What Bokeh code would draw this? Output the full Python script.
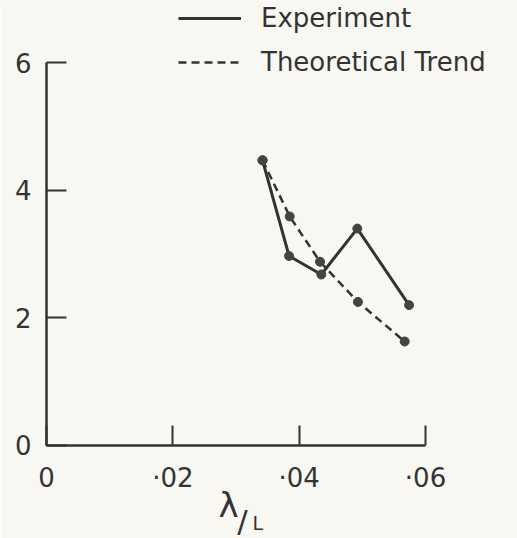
from bokeh.plotting import figure
from bokeh.models import (FixedTicker, Legend, LegendItem, Label, ColumnDataSource,
                          Range1d, LinearAxis)
from bokeh.embed import file_html
from bokeh.resources import INLINE

# ---- data ----
x_experiment = [0.0342, 0.0384, 0.0435, 0.0492, 0.0574]
y_experiment = [4.47, 2.97, 2.68, 3.40, 2.20]
x_theory = [0.0342, 0.0385, 0.0433, 0.0493, 0.0567]
y_theory = [4.47, 3.59, 2.88, 2.25, 1.63]

x_ticks = [0, 0.02, 0.04, 0.06]
x_tick_labels = ["0", "·02", "·04", "·06"]
y_ticks = [0, 2, 4, 6]
y_tick_labels = ["0", "2", "4", "6"]
legend_labels = ["Experiment", "Theoretical Trend"]
x_label_main = "λ"
x_label_slash = "/"
x_label_sub = "L"

BG = "#f8f7f2"
INK = "#333333"
FONT = "DejaVu Sans"

p = figure(width=517, height=538, output_backend="svg", toolbar_location=None,
           x_range=Range1d(-0.007282, 0.07456), y_range=Range1d(-1.458, 6.975),
           x_axis_location=None, y_axis_location=None,
           min_border_left=0, min_border_right=0, min_border_top=0,
           min_border_bottom=0)
p.background_fill_color = BG
p.border_fill_color = BG
p.outline_line_color = None
p.xgrid.visible = False
p.ygrid.visible = False

xaxis = LinearAxis(ticker=FixedTicker(ticks=x_ticks),
                   major_label_overrides={t: l for t, l in zip(x_ticks, x_tick_labels)},
                   bounds=(0, 0.06), fixed_location=0)
yaxis = LinearAxis(ticker=FixedTicker(ticks=y_ticks),
                   major_label_overrides={t: l for t, l in zip(y_ticks, y_tick_labels)},
                   bounds=(0, 6), fixed_location=0)
for ax, standoff in ((xaxis, 18), (yaxis, 15)):
    ax.axis_line_color = INK
    ax.axis_line_width = 2.5
    ax.major_tick_line_color = INK
    ax.major_tick_line_width = 2
    ax.major_tick_in = 20
    ax.major_tick_out = 0
    ax.minor_tick_line_color = None
    ax.major_label_text_font = FONT
    ax.major_label_text_font_size = "26px"
    ax.major_label_text_color = INK
    ax.major_label_standoff = standoff
p.add_layout(xaxis, "below")
p.add_layout(yaxis, "left")

src_e = ColumnDataSource(dict(x=x_experiment, y=y_experiment))
src_t = ColumnDataSource(dict(x=x_theory, y=y_theory))

r_t = p.line("x", "y", source=src_t, line_color=INK, line_width=2.5, line_dash="8 5")
r_e = p.line("x", "y", source=src_e, line_color=INK, line_width=3)
p.scatter("x", "y", source=src_t, size=9, fill_color="#444444", line_color="#444444")
p.scatter("x", "y", source=src_e, size=9, fill_color="#444444", line_color="#444444")

legend = Legend(items=[LegendItem(label=legend_labels[0], renderers=[r_e]),
                       LegendItem(label=legend_labels[1], renderers=[r_t])],
                location=(178, 461), orientation="vertical",
                glyph_width=63, glyph_height=20, label_standoff=20, spacing=14,
                padding=0, margin=0, border_line_color=None,
                background_fill_alpha=0,
                label_text_font=FONT, label_text_font_size="26px",
                label_text_color=INK)
p.add_layout(legend)

# x-axis title λ/L
p.add_layout(Label(x=0.02723, y=-0.94, text=x_label_main, text_font=FONT,
                   text_font_size="34px", text_color=INK, text_baseline="alphabetic"))
p.add_layout(Label(x=0.0302, y=-1.19, text=x_label_slash, text_font=FONT,
                   text_font_size="31px", text_color=INK, text_baseline="alphabetic"))
p.add_layout(Label(x=0.03261, y=-1.21, text=x_label_sub, text_font=FONT,
                   text_font_size="19px", text_color=INK, text_baseline="alphabetic"))

open("out.html", "w").write(file_html(p, INLINE))
